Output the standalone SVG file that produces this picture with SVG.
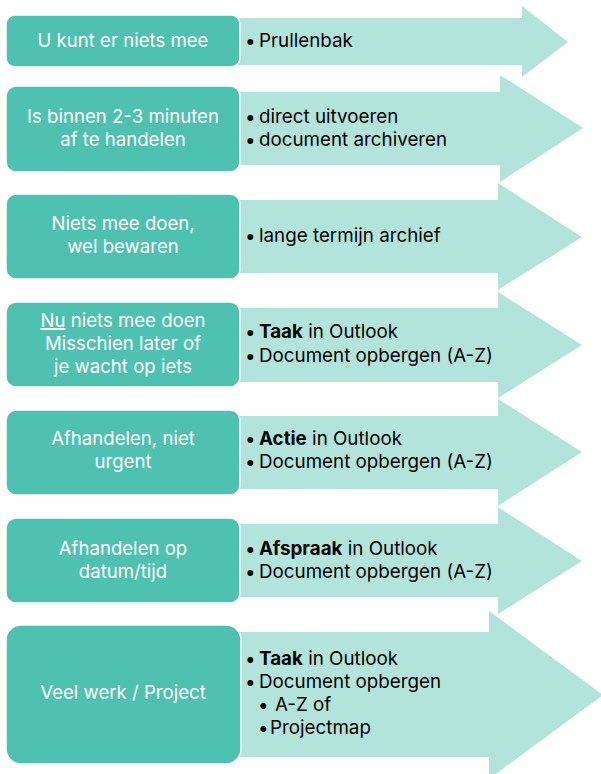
<svg xmlns="http://www.w3.org/2000/svg" width="601" height="774" viewBox="0 0 601 774">
<style>
.arrow{fill:#b2e4db}
.box{fill:#4fc1b0;stroke:#ffffff;stroke-width:1.5}
.bt{font-family:Inter,"Open Sans",sans-serif;font-size:18.6px;fill:#ffffff;text-anchor:middle}
.at{font-family:Inter,"Open Sans",sans-serif;font-size:18.8px;fill:#000000}
.b{font-weight:bold}
</style>
<rect width="601" height="774" fill="#ffffff"/>
<g id="connectors">
<polygon class="arrow" points="235,18 522,18 522,6 568,42 522,77 522,65 235,65"/>
<polygon class="arrow" points="235,92 500,92 500,75 583,128 500,182 500,165 235,165"/>
<polygon class="arrow" points="235,200 498,200 498,183 582,237 498,290 498,273 235,273"/>
<polygon class="arrow" points="235,308 498,308 498,292 582,345 498,398 498,382 235,382"/>
<polygon class="arrow" points="235,416 498,416 498,399 582,452 498,506 498,489 235,489"/>
<polygon class="arrow" points="235,524 498,524 498,507 582,561 498,614 498,597 235,597"/>
<polygon class="arrow" points="235,632 489,632 489,611 603,695 489,779 489,757 235,757"/>
</g>
<g id="row1">
<rect class="box" x="6" y="15" width="234" height="52" rx="9"/>
<text class="bt" x="123" y="47">U kunt er niets mee</text>
<text class="at" y="47"><tspan x="245">•</tspan><tspan x="259">Prullenbak</tspan></text>
</g>
<g id="row2">
<rect class="box" x="6" y="86" width="234" height="86" rx="10"/>
<text class="bt"><tspan x="123" y="123">Is binnen 2-3 minuten</tspan><tspan x="123" y="146">af te handelen</tspan></text>
<text class="at"><tspan x="245" y="123">•</tspan><tspan x="259" y="123">direct uitvoeren</tspan><tspan x="245" y="146">•</tspan><tspan x="259" y="146">document archiveren</tspan></text>
</g>
<g id="row3">
<rect class="box" x="6" y="194" width="234" height="85" rx="10"/>
<text class="bt"><tspan x="123" y="230">Niets mee doen,</tspan><tspan x="123" y="253">wel bewaren</tspan></text>
<text class="at" y="242"><tspan x="245">•</tspan><tspan x="259">lange termijn archief</tspan></text>
</g>
<g id="row4">
<rect class="box" x="6" y="302" width="234" height="85" rx="10"/>
<text class="bt"><tspan x="123" y="327"><tspan text-decoration="underline">Nu</tspan> niets mee doen</tspan><tspan x="123" y="350">Misschien later of</tspan><tspan x="123" y="373">je wacht op iets</tspan></text>
<text class="at"><tspan x="245" y="338">•</tspan><tspan x="259" y="338" class="b">Taak</tspan><tspan> in Outlook</tspan><tspan x="245" y="362">•</tspan><tspan x="259" y="362">Document opbergen (A-Z)</tspan></text>
</g>
<g id="row5">
<rect class="box" x="6" y="410" width="234" height="85" rx="10"/>
<text class="bt"><tspan x="123" y="445">Afhandelen, niet</tspan><tspan x="123" y="468">urgent</tspan></text>
<text class="at"><tspan x="245" y="445">•</tspan><tspan x="259" y="445" class="b">Actie</tspan><tspan> in Outlook</tspan><tspan x="245" y="468">•</tspan><tspan x="259" y="468">Document opbergen (A-Z)</tspan></text>
</g>
<g id="row6">
<rect class="box" x="6" y="518" width="234" height="85" rx="10"/>
<text class="bt"><tspan x="123" y="555">Afhandelen op</tspan><tspan x="123" y="578">datum/tijd</tspan></text>
<text class="at"><tspan x="245" y="555">•</tspan><tspan x="259" y="555" class="b">Afspraak</tspan><tspan> in Outlook</tspan><tspan x="245" y="578">•</tspan><tspan x="259" y="578">Document opbergen (A-Z)</tspan></text>
</g>
<g id="row7">
<rect class="box" x="6" y="625" width="235" height="139" rx="15"/>
<text class="bt" x="123" y="699">Veel werk / Project</text>
<text class="at"><tspan x="245" y="665">•</tspan><tspan x="259" y="665" class="b">Taak</tspan><tspan> in Outlook</tspan><tspan x="245" y="688">•</tspan><tspan x="259" y="688">Document opbergen</tspan><tspan x="258" y="711">•</tspan><tspan x="275" y="711">A-Z of</tspan><tspan x="258" y="734">•</tspan><tspan x="270" y="734">Projectmap</tspan></text>
</g>
</svg>
